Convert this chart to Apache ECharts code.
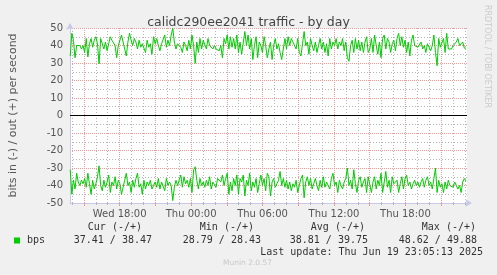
<!DOCTYPE html>
<html>
<head>
<meta charset="utf-8">
<script src="https://cdn.jsdelivr.net/npm/echarts@6/dist/echarts.min.js"></script>
<style>
  html, body { margin: 0; padding: 0; background: #f0f0f0; }
  #chart { width: 497px; height: 275px; }
</style>
</head>
<body>
<div id="chart"></div>
<script>
// hours counted from Wed 00:00
const axisStart = 13.83;
const axisEnd = 47.17;
const dataStart = 13.85;
const dataEnd = 47.08;

const minorHours = [14, 16, 17, 19, 20, 22, 23, 25, 26, 28, 29, 31, 32, 34, 35,
  37, 38, 40, 41, 43, 44, 46, 47];
const majorTicks = [15, 18, 21, 24, 27, 30, 33, 36, 39, 42, 45];
const labelHours = [18, 24, 30, 36, 42];
const labelTexts = ["Wed 18:00", "Thu 00:00", "Thu 06:00", "Thu 12:00", "Thu 18:00"];

// out (+) bits per second
const outBits = [
  34, 47, 43, 33, 40, 39, 40, 38, 40, 36, 44, 33.5, 41, 44, 39, 43, 45, 41, 29.5, 44, 45, 38, 42, 37, 41, 45, 43, 44, 40, 33, 40, 41, 46, 42, 43, 34, 42, 47, 43, 40, 44, 42, 38, 43, 39, 41, 40, 36, 43, 39, 41, 35, 45, 41, 44, 40, 37, 41, 40, 46, 39, 43,
  40, 46, 49.88, 42, 38, 41, 40, 39, 36, 42, 40, 37, 43, 38, 46, 40, 29.8, 42, 36, 44, 38, 43, 42, 38, 44, 40, 41, 38, 40, 38, 39, 37, 40, 33, 44, 41, 46, 38, 45, 39, 44, 38, 46, 36, 42, 35, 35, 48, 40, 46, 38, 44, 32, 40, 45, 33, 42, 40, 36, 45, 40, 33,
  38, 42, 32, 40, 44, 38, 41, 36, 32, 38, 44, 38, 45, 40, 44, 42, 43, 38, 44, 36, 34, 41, 48, 40, 42, 35, 44, 40, 37, 42, 36, 40, 44, 38, 42, 36, 41, 34, 44, 38, 42, 40, 44, 38, 42, 40, 44, 37, 42, 33, 31, 40, 43, 36, 44, 38, 43, 37, 42, 36, 42, 45, 36,
  38, 44, 36, 46, 40, 35, 42, 33, 44, 46, 38, 44, 42, 36, 41, 43, 37, 44, 47, 40, 45, 39, 43, 36, 42, 34, 43, 46, 40, 41, 39, 40, 42, 38, 40, 36, 41, 40, 37, 40, 46, 36, 28.43, 44, 39, 40, 44, 36, 47, 38, 39, 38, 40, 41, 42, 44, 40, 39, 42, 38.5, 38.47
];

// in (-) bits per second, drawn below zero
const inBits = [
  -31, -45, -37, -42, -33, -38, -40, -37, -39, -36, -41, -33, -39, -45, -37, -42, -39, -35, -28.79, -40, -43, -37, -41, -38, -34, -44, -38, -40, -35, -42, -37, -39, -45, -46, -37, -33, -40, -38, -44, -37, -41, -36, -33, -41, -39, -45, -37, -42, -38, -40, -37, -42, -40, -38, -41, -36, -42, -38, -37, -43, -36, -40,
  -38, -40, -48.62, -41, -37, -40, -39, -34, -41, -35, -39, -37, -41, -36, -44, -31, -29.3, -37, -42, -36, -40, -38, -41, -37, -40, -35, -42, -38, -38, -41, -36, -35, -38, -34, -40, -36, -33, -45, -38, -43, -36, -40, -34, -45, -36, -38, -34, -46, -37, -40, -33, -43, -38, -41, -36, -44, -39, -34, -40, -36, -43, -33,
  -35, -46, -38, -36, -41, -39, -37, -32, -40, -36, -41, -37, -42, -38, -43, -39, -41, -37, -44, -40, -36, -34, -47, -38, -35, -40, -36, -42, -39, -36, -40, -43, -37, -41, -35, -41, -38, -37, -42, -36, -33, -40, -38, -44, -37, -40, -42, -38, -36, -30, -40, -37, -42, -31, -39, -44, -37, -35, -41, -38, -36, -44, -35,
  -36, -44, -38, -35, -42, -37, -40, -33, -44, -38, -32, -41, -37, -44, -35, -39, -40, -37, -44, -39, -35, -42, -36, -34, -40, -38, -42, -39, -37, -40, -38, -41, -38, -36, -41, -37, -35, -40, -38, -42, -36, -30, -44, -37, -41, -39, -44, -38, -42, -37, -40, -39, -41, -38, -40, -42, -40, -44, -38, -36, -37.41
];

const statHeaders = ["Cur (-/+)", "Min (-/+)", "Avg (-/+)", "Max (-/+)"];
const statIn = ["37.41", "28.79", "38.81", "48.62"];
const statOut = ["38.47", "28.43", "39.75", "49.88"];

const toPoints = (vals) =>
  vals.map((v, i) => [dataStart + (i * (dataEnd - dataStart)) / (vals.length - 1), v]);

const redGrid = "#f09a9a";
const grayGrid = "#b4b4b4";
const axisColor = "#c8c8e8";
const mono = "DejaVu Sans Mono";

const chart = echarts.init(document.getElementById("chart"));

const headerRight = [142, 254, 365, 476];
const valueRight = [152, 261, 368, 477];
const graphics = [
  {
    type: "text", x: 487, y: 5, rotation: -Math.PI / 2,
    style: { text: "RRDTOOL / TOBI OETIKER", font: "8px DejaVu Sans", fill: "#cbcbcb", textAlign: "left", textVerticalAlign: "middle" },
  },
  { type: "rect", shape: { x: 14, y: 237.5, width: 6, height: 6 }, style: { fill: "#00cc00" } },
  {
    type: "text", x: 27, y: 240,
    style: { text: "bps", font: "10px " + mono, fill: "#333", textAlign: "left", textVerticalAlign: "middle" },
  },
  {
    type: "text", x: 483, y: 252,
    style: { text: "Last update: Thu Jun 19 23:05:13 2025", font: "10px " + mono, fill: "#333", textAlign: "right", textVerticalAlign: "middle" },
  },
  {
    type: "text", x: 247.5, y: 263.5,
    style: { text: "Munin 2.0.57", font: "7.5px DejaVu Sans", fill: "#c8c8c8", textAlign: "center", textVerticalAlign: "middle" },
  },
];
statHeaders.forEach((h, i) => {
  graphics.push({
    type: "text", x: headerRight[i], y: 227.5,
    style: { text: h, font: "10px " + mono, fill: "#333", textAlign: "right", textVerticalAlign: "middle" },
  });
  graphics.push({
    type: "text", x: valueRight[i], y: 240,
    style: { text: statIn[i] + " / " + statOut[i], font: "10px " + mono, fill: "#333", textAlign: "right", textVerticalAlign: "middle" },
  });
});

chart.setOption({
  animation: false,
  backgroundColor: "#f0f0f0",
  title: {
    text: "calidc290ee2041 traffic - by day",
    left: "center",
    top: 11,
    textStyle: { fontFamily: "DejaVu Sans", fontSize: 12.5, fontWeight: "normal", color: "#444" },
  },
  grid: {
    left: 67, right: 30, top: 28, bottom: 72,
    show: true, backgroundColor: "#ffffff", borderWidth: 0,
  },
  xAxis: [
    {
      // hourly minor grid
      type: "value", min: axisStart, max: axisEnd, position: "bottom",
      axisLine: { show: false, onZero: false },
      axisTick: { show: true, customValues: minorHours, length: 2, lineStyle: { color: grayGrid } },
      axisLabel: { show: false },
      splitLine: { show: true, lineStyle: { color: grayGrid, type: [1, 2], width: 1 } },
    },
    {
      // 3-hourly major grid + labels
      type: "value", min: axisStart, max: axisEnd, position: "bottom",
      axisLine: {
        show: true, onZero: false, symbol: ["none", "arrow"], symbolSize: [6, 7], symbolOffset: [0, 5],
        lineStyle: { color: axisColor, width: 1 },
      },
      axisTick: { show: true, customValues: majorTicks, length: 3, lineStyle: { color: redGrid } },
      axisLabel: {
        customValues: labelHours,
        margin: 6,
        fontFamily: "DejaVu Sans", fontSize: 10, color: "#555",
        formatter: (v) => labelTexts[labelHours.indexOf(v)],
      },
      splitLine: { show: true, lineStyle: { color: redGrid, type: "dotted", width: 1 } },
    },
  ],
  yAxis: {
    type: "value", min: -50, max: 50, interval: 10,
    name: "bits in (-) / out (+) per second",
    nameLocation: "middle", nameRotate: 90, nameGap: 51,
    nameTextStyle: { fontFamily: "DejaVu Sans", fontSize: 11, color: "#555" },
    axisLine: {
      show: true, onZero: false, symbol: ["none", "arrow"], symbolSize: [6, 7], symbolOffset: [0, 5],
      lineStyle: { color: axisColor, width: 1 },
    },
    axisTick: { show: false },
    minorTick: { show: false, splitNumber: 2 },
    axisLabel: { margin: 7, fontFamily: "DejaVu Sans", fontSize: 10, color: "#555" },
    splitLine: { show: true, lineStyle: { color: redGrid, type: "dotted", width: 1 } },
    minorSplitLine: { show: true, lineStyle: { color: grayGrid, type: [1, 2], width: 1 } },
  },
  series: [
    {
      name: "in", type: "line", xAxisIndex: 0,
      symbol: "none", data: toPoints(inBits),
      lineStyle: { color: "#00cc00", width: 1 },
      markLine: {
        silent: true, symbol: "none", label: { show: false },
        lineStyle: { color: "#000000", width: 1.2, type: "solid" },
        data: [{ yAxis: 0 }],
      },
    },
    {
      name: "out", type: "line", xAxisIndex: 1,
      symbol: "none", data: toPoints(outBits),
      lineStyle: { color: "#00cc00", width: 1 },
    },
  ],
  graphic: graphics,
});
</script>
</body>
</html>
